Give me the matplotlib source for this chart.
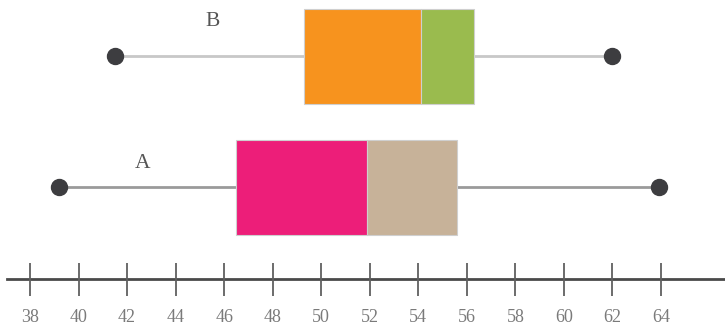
import matplotlib.pyplot as plt

# five-number summaries
groups = ["A", "B"]
mins = [39.2, 41.5]
q1s = [46.5, 49.3]
medians = [51.9, 54.1]
q3s = [55.6, 56.3]
maxs = [63.9, 62.0]
ticks = list(range(38, 65, 2))

lower_colors = ["#ED1E79", "#F7931E"]
upper_colors = ["#C7B299", "#9ABB4E"]
whisker_colors = ["#9a9a9a", "#c8c8c8"]
row_y = [187, 56]          # centre of each row (pixel-like units, y down)
label_x = [143, 213]
label_y = [163, 22]

plt.rcParams['font.family'] = ['Liberation Serif', 'DejaVu Serif']

fig = plt.figure(figsize=(7.25, 3.31), dpi=100)
ax = fig.add_axes([0, 0, 1, 1])
# x in data units, 38 sits at px 30 and 64 at px 661
px = (661 - 30) / 26.0
ax.set_xlim(38 - 30 / px, 38 + 695 / px)
ax.set_ylim(331, 0)
ax.axis('off')

box_h = 95
for i, g in enumerate(groups):
    y = row_y[i]
    ax.plot([mins[i], maxs[i]], [y, y], color=whisker_colors[i], lw=2.0, zorder=1)
    ax.barh(y, medians[i] - q1s[i], left=q1s[i], height=box_h,
            color=lower_colors[i], edgecolor="#cfcfcf", lw=0.8, zorder=2)
    ax.barh(y, q3s[i] - medians[i], left=medians[i], height=box_h,
            color=upper_colors[i], edgecolor="#cfcfcf", lw=0.8, zorder=2)
    ax.plot([mins[i], maxs[i]], [y, y], 'o', color="#3d3d40", ms=11.5, zorder=3)
    ax.text(38 + (label_x[i] - 30) / px, label_y[i], g, fontsize=15.5,
            color="#555555", ha='center', va='center')

# number line
ax.plot([38 - 23 / px, 38 + 695 / px], [279, 279], color="#4a4a4a", lw=2, zorder=1,
        clip_on=False)
ax.vlines(ticks, 263, 296, color="#606060", lw=1.3)
for t in ticks:
    ax.text(t, 317, str(t), fontsize=13, color="#7a7a7a", ha='center', va='center')

plt.savefig('out.png', dpi=100)
